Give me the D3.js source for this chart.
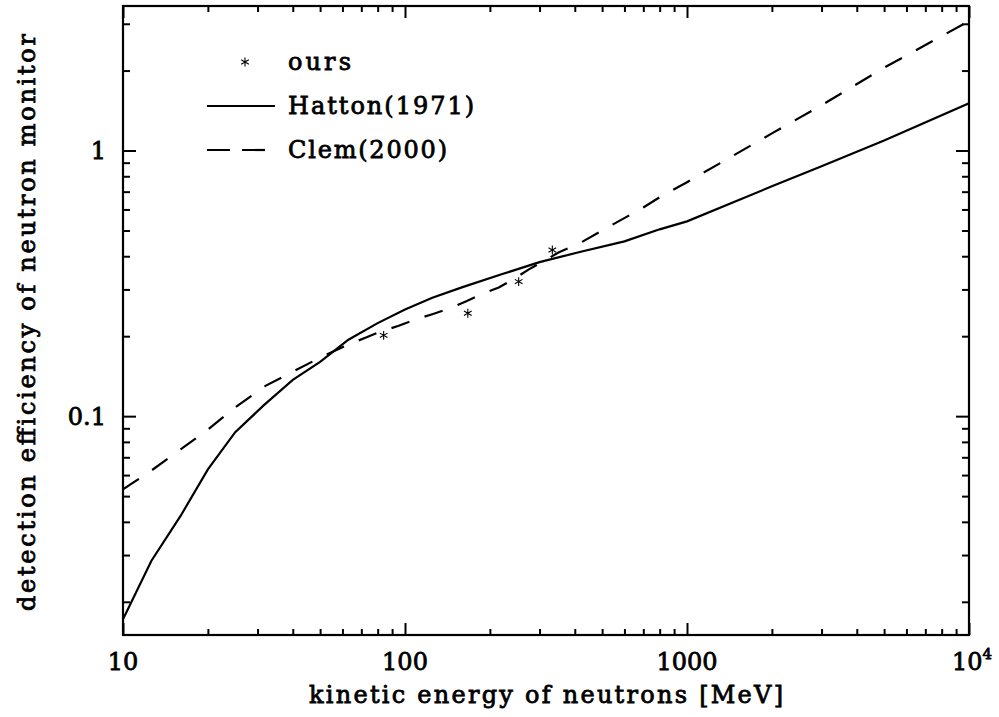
<!DOCTYPE html>
<html><head><meta charset="utf-8">
<script src="https://cdn.jsdelivr.net/npm/d3@7"></script>
<style>
body{margin:0;background:#fff}
text{font-family:"DejaVu Serif",serif;fill:#000}
</style>
</head><body>
<svg id="c" width="999" height="717"></svg>
<script>
// ---- data ----
const xMajor = [10, 100, 1000, 10000];
const xLabels = ["10", "100", "1000", "10^4"];
const yMajor = [0.1, 1];
const yLabels = ["0.1", "1"];
const xDomain = [10, 10000];
const yDomain = [0.015, 3.5];

const hattonE = [10, 12.6, 16, 20, 25, 31.6, 40, 50, 63, 80, 100, 125, 160, 220, 300, 420, 600, 800, 1000, 2000, 3000, 5000, 10000];
const hattonV = [0.0172, 0.0285, 0.0421, 0.063, 0.087, 0.110, 0.137, 0.160, 0.194, 0.224, 0.252, 0.279, 0.306, 0.342, 0.380, 0.416, 0.455, 0.505, 0.541, 0.733, 0.873, 1.09, 1.506];

const clemE = [10, 12.5, 16, 20, 25, 32, 40, 50, 63, 72, 80, 95, 110, 125, 145, 165, 190, 215, 245, 275, 310, 350, 420, 500, 700, 800, 1000, 2000, 3000, 5000, 10000];
const clemV = [0.053, 0.062, 0.075, 0.089, 0.108, 0.130, 0.147, 0.166, 0.186, 0.197, 0.206, 0.219, 0.232, 0.242, 0.255, 0.271, 0.290, 0.305, 0.330, 0.357, 0.383, 0.413, 0.450, 0.50, 0.61, 0.667, 0.76, 1.16, 1.48, 2.05, 3.07];

const oursE = [84, 167, 253, 333];
const oursV = [0.2015, 0.244, 0.321, 0.422];

const legendNames = ["ours", "Hatton(1971)", "Clem(2000)"];
const xTitle = "kinetic energy of neutrons [MeV]";
const yTitle = "detection efficiency of neutron monitor";

// ---- layout ----
const L = 123, R = 969, T = 6, B = 635;
const svg = d3.select("#c");
const x = d3.scaleLog().domain(xDomain).range([L, R]);
const y = d3.scaleLog().domain(yDomain).range([B, T]);

const xMinor = [];
[10, 100, 1000].forEach(d => { for (let k = 2; k <= 9; k++) xMinor.push(k * d); });
const yMinor = [];
[0.01, 0.1, 1].forEach(d => { for (let k = 2; k <= 9; k++) { const v = +(k * d).toPrecision(3); if (v >= yDomain[0] && v <= yDomain[1]) yMinor.push(v); } });

svg.append("defs").append("clipPath").attr("id", "clip")
  .append("rect").attr("x", L).attr("y", T).attr("width", R - L).attr("height", B - T);

// curves
const hatton = hattonE.map((e, i) => [e, hattonV[i]]);
const clem = clemE.map((e, i) => [e, clemV[i]]);
const line = d3.line().x(d => x(d[0])).y(d => y(d[1]));
const g = svg.append("g").attr("clip-path", "url(#clip)");
g.append("path").attr("d", line(hatton)).attr("fill", "none").attr("stroke", "#000").attr("stroke-width", 2.2);
g.append("path").attr("d", line(clem)).attr("fill", "none").attr("stroke", "#000").attr("stroke-width", 2.2)
  .attr("stroke-dasharray", "19,16");

// points
const star = d3.symbol().type(d3.symbolAsterisk).size(55);
svg.append("g").selectAll("path").data(oursE.map((e, i) => [e, oursV[i]])).join("path")
  .attr("d", star).attr("transform", d => `translate(${x(d[0])},${y(d[1])})`)
  .attr("fill", "none").attr("stroke", "#000").attr("stroke-width", 1.1);

// axes with inward ticks
function tickAxis(axisFn, scale, vals, size, transform) {
  const a = axisFn(scale).tickValues(vals).tickSize(size).tickFormat("");
  const gg = svg.append("g").attr("transform", transform).call(a);
  gg.select(".domain").remove();
  gg.selectAll("line").attr("stroke", "#000").attr("stroke-width", 2);
}
tickAxis(d3.axisBottom, x, xMajor, -12, `translate(0,${B})`);
tickAxis(d3.axisBottom, x, xMinor, -6, `translate(0,${B})`);
tickAxis(d3.axisTop, x, xMajor, -12, `translate(0,${T})`);
tickAxis(d3.axisTop, x, xMinor, -6, `translate(0,${T})`);
tickAxis(d3.axisLeft, y, yMajor, -13, `translate(${L},0)`);
tickAxis(d3.axisLeft, y, yMinor, -7, `translate(${L},0)`);
tickAxis(d3.axisRight, y, yMajor, -13, `translate(${R},0)`);
tickAxis(d3.axisRight, y, yMinor, -7, `translate(${R},0)`);

svg.append("rect").attr("x", L).attr("y", T).attr("width", R - L).attr("height", B - T)
  .attr("fill", "none").attr("stroke", "#000").attr("stroke-width", 2.2);

// text helper
const fs = 24;
function txt(xp, yp, s, anchor, len) {
  const t = svg.append("text").attr("x", xp).attr("y", yp).attr("text-anchor", anchor)
    .attr("font-size", fs).attr("stroke", "#000").attr("stroke-width", 0.8).text(s);
  if (len) t.attr("textLength", len).attr("lengthAdjust", "spacing");
  return t;
}

// tick labels
xMajor.forEach((v, i) => {
  const lab = xLabels[i];
  if (lab.includes("^")) {
    const [b, e] = lab.split("^");
    const t = txt(x(v) + 3, 670, "", "middle");
    t.append("tspan").text(b);
    t.append("tspan").attr("font-size", fs * 0.62).attr("dy", -11).text(e);
  } else {
    txt(x(v), 670, lab, "middle");
  }
});
yMajor.forEach((v, i) => txt(106, y(v) + 8.5, yLabels[i], "end"));

// titles
txt((L + R) / 2, 703, xTitle, "middle", 474);
txt(0, 0, yTitle, "middle", 577).attr("transform", `translate(35,${(T + B) / 2 + 2}) rotate(-90)`);

// legend
const lg = svg.append("g");
lg.append("path").attr("d", star).attr("transform", "translate(245,62)")
  .attr("fill", "none").attr("stroke", "#000").attr("stroke-width", 1.1);
lg.append("line").attr("x1", 207).attr("x2", 275).attr("y1", 106).attr("y2", 106)
  .attr("stroke", "#000").attr("stroke-width", 2.2);
lg.append("line").attr("x1", 207).attr("x2", 265).attr("y1", 150).attr("y2", 150)
  .attr("stroke", "#000").attr("stroke-width", 2.2).attr("stroke-dasharray", "23,12");
const legLens = [63, 186, 159];
[70, 114, 158].forEach((by, i) => txt(288, by, legendNames[i], "start", legLens[i]));
</script>
</body></html>
